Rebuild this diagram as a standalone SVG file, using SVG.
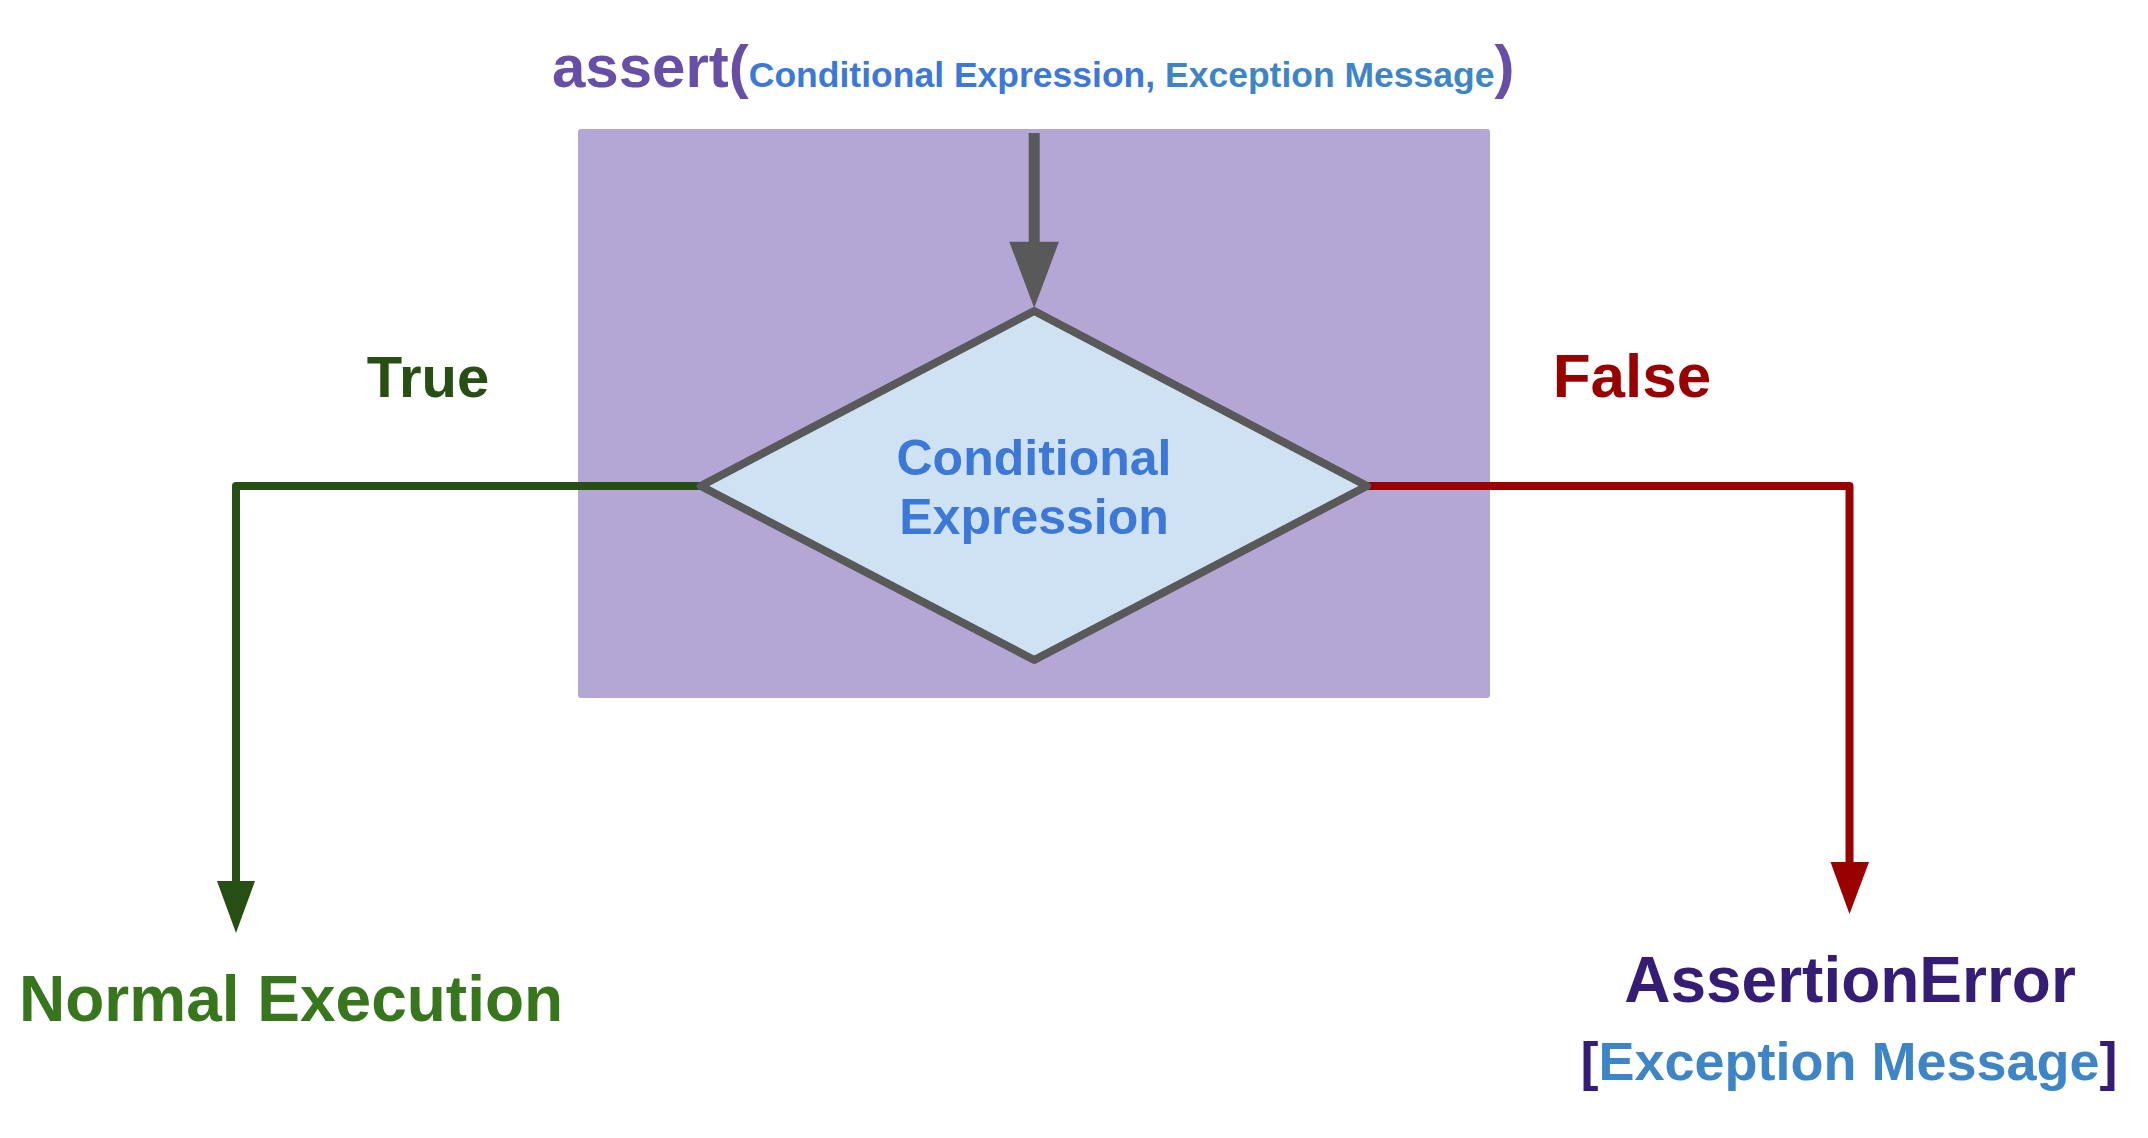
<svg xmlns="http://www.w3.org/2000/svg" width="2148" height="1138" viewBox="0 0 2148 1138">
<style>
text { font-family: "Liberation Sans", Arial, sans-serif; font-weight: bold; }
.c { text-anchor: middle; }
.line { fill: none; stroke-linejoin: round; }
</style>
<rect x="0" y="0" width="2148" height="1138" fill="#ffffff"/>
<g id="title">
<text x="552" y="87" font-size="60" fill="#674ea7">assert(<tspan font-size="35.5" fill="#3c78d8">Conditional Expression, </tspan><tspan font-size="35.5" fill="#3d85c6">Exception Message</tspan><tspan font-size="60" fill="#674ea7">)</tspan></text>
</g>
<g id="container">
<rect x="578" y="129" width="912" height="569" rx="3" fill="#b4a7d6"/>
</g>
<g id="connectors">
<line x1="1034.2" y1="133" x2="1034.2" y2="244" stroke="#595959" stroke-width="11"/>
<polygon points="1009.3,241.7 1059,241.7 1034.2,308" fill="#595959"/>
<polyline class="line" points="700,486 236,486 236,883" stroke="#274e13" stroke-width="8"/>
<polygon points="217,881 255,881 236,933" fill="#274e13"/>
<polyline class="line" points="1368,486 1849.5,486 1849.5,864" stroke="#990000" stroke-width="8"/>
<polygon points="1830.5,862 1869,862 1849.5,914" fill="#990000"/>
</g>
<g id="decision">
<polygon points="1034.2,311 1367,486 1034.2,660 700.7,486" fill="#cfe2f3" stroke="#595959" stroke-width="8" stroke-linejoin="round"/>
<text class="c" x="1034" y="475" font-size="50" fill="#3c78d8">Conditional</text>
<text class="c" x="1034" y="534" font-size="50" fill="#3c78d8">Expression</text>
</g>
<g id="label-true">
<text class="c" x="428" y="397" font-size="58" fill="#274e13">True</text>
</g>
<g id="label-false">
<text class="c" x="1632" y="397" font-size="62" fill="#990000">False</text>
</g>
<g id="normal-execution">
<text x="19" y="1021" font-size="64" fill="#38761d">Normal Execution</text>
</g>
<g id="assertion-error">
<text class="c" x="1850" y="1002" font-size="64" fill="#351c75">AssertionError</text>
<text class="c" x="1849" y="1080" font-size="54" fill="#351c75">[<tspan fill="#3d85c6">Exception Message</tspan>]</text>
</g>
</svg>
